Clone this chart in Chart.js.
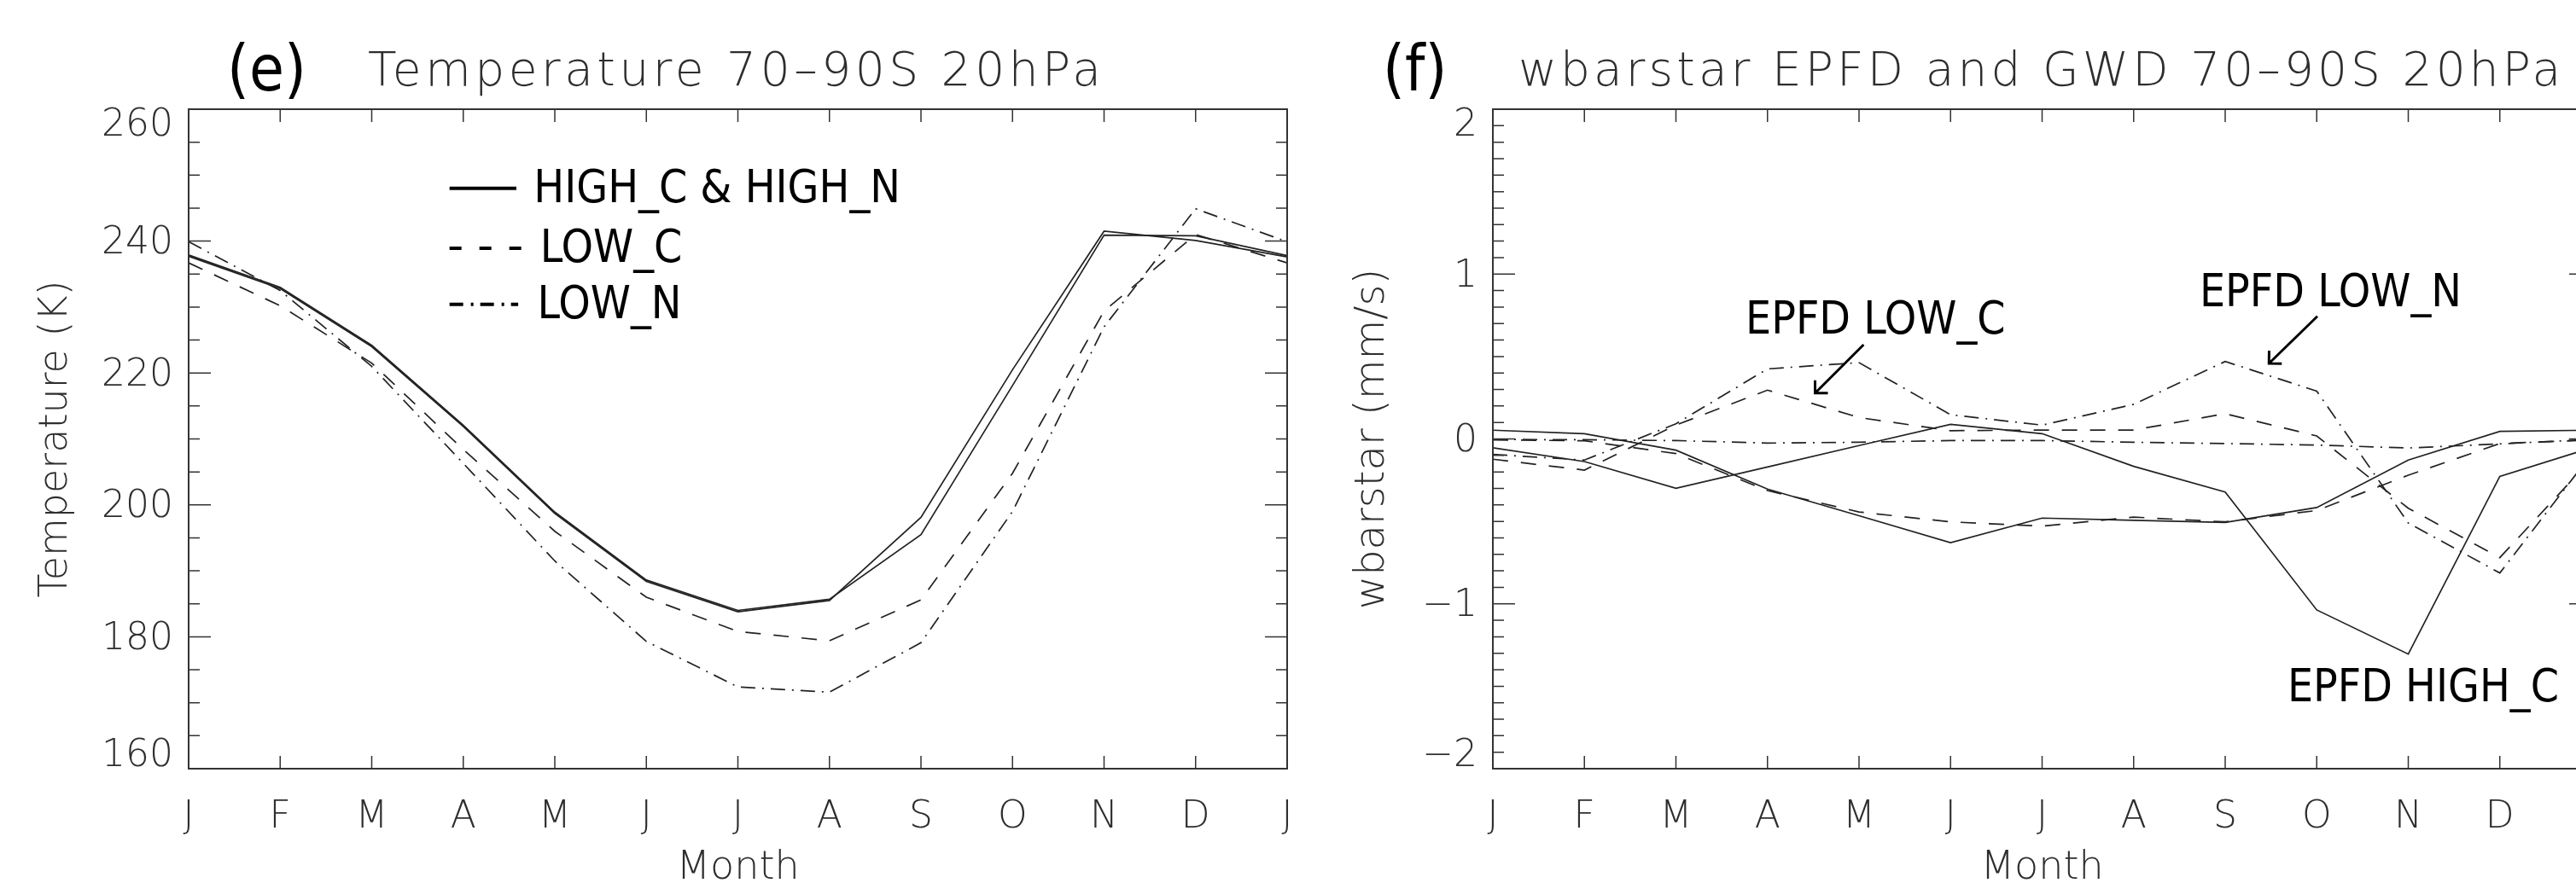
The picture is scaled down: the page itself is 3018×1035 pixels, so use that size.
<!DOCTYPE html>
<html>
<head>
<meta charset="utf-8">
<title>Temperature and wbarstar 70–90S 20hPa</title>
<script src="https://cdn.jsdelivr.net/npm/chart.js@4.4.1/dist/chart.umd.min.js"></script>
<style>
  html, body { margin: 0; padding: 0; background: #fff; overflow: hidden; }
  #page { position: relative; width: 3018px; height: 1035px; overflow: hidden; background: #fff; }
  canvas { position: absolute; top: 0; }
  #chart-e { left: 0; }
  #chart-f { left: 1528px; }
</style>
</head>
<body>
<div id="page">
  <canvas id="chart-e" width="1560" height="1035"></canvas>
  <canvas id="chart-f" width="1560" height="1035"></canvas>
</div>
<script>
const MONTHS = ['J', 'F', 'M', 'A', 'M', 'J', 'J', 'A', 'S', 'O', 'N', 'D', 'J'];

// (e) Temperature 70-90S, 20hPa (K), Jan..Jan
const T_HIGH_C = [237.7, 232.8, 224.0, 211.9, 198.7, 188.4, 183.8, 185.5, 198.1, 220.5, 241.5, 240.1, 237.6];
const T_HIGH_N = [237.9, 233.0, 224.2, 212.1, 198.9, 188.6, 184.0, 185.7, 195.5, 218.1, 240.9, 240.8, 237.8];
const T_LOW_C  = [236.7, 230.2, 221.5, 208.4, 196.0, 186.0, 180.8, 179.4, 185.6, 204.8, 229.4, 241.0, 236.7];
const T_LOW_N  = [239.9, 232.5, 221.0, 206.3, 191.5, 179.3, 172.4, 171.6, 179.1, 199.0, 227.0, 244.9, 239.9];

// (f) wbarstar from EPFD and GWD 70-90S, 20hPa (mm/s)
const EPFD_HIGH_C = [-0.054, -0.137, -0.299, -0.170, -0.040, 0.089, 0.032, -0.166, -0.322, -1.037, -1.305, -0.227, -0.054];
const GWD_HIGH_C  = [0.053, 0.032, -0.068, -0.304, -0.466, -0.629, -0.480, -0.494, -0.506, -0.416, -0.128, 0.046, 0.053];
const EPFD_LOW_C  = [-0.123, -0.189, 0.084, 0.296, 0.130, 0.050, 0.054, 0.054, 0.153, 0.018, -0.420, -0.720, -0.123];
const GWD_LOW_C   = [-0.006, -0.011, -0.089, -0.313, -0.443, -0.503, -0.529, -0.474, -0.503, -0.434, -0.220, -0.028, -0.006];
const EPFD_LOW_N  = [-0.094, -0.128, 0.092, 0.425, 0.463, 0.147, 0.084, 0.210, 0.470, 0.290, -0.510, -0.813, -0.094];
const GWD_LOW_N   = [-0.003, -0.005, -0.010, -0.025, -0.020, -0.010, -0.010, -0.020, -0.028, -0.037, -0.055, -0.030, -0.003];

const T_TICKS = { min: 160, max: 260, step: 20, minor: 5 };
const W_TICKS = { min: -2, max: 2, step: 1, minor: 0.1 };

// styles
const TEXT = '#2e2e2e';
const INK = '#222';
const AXIS = '#333';
const THIN = "'DejaVu Sans'";
const COND = "'DejaVu Sans Condensed', 'DejaVu Sans', sans-serif";
const SOLID = [];
const DASH = [18, 15];
const DASHDOT = [17, 8, 2, 8];

function line(label, data, dash) {
  return {
    label,
    data,
    borderColor: INK,
    borderWidth: 1.7,
    borderDash: dash,
    pointRadius: 0,
    tension: 0,
    fill: false,
  };
}

// spread a string over a given width (the original uses a wide stroke font)
function fitText(ctx, text, x, y, width) {
  ctx.letterSpacing = '0px';
  const w = ctx.measureText(text).width;
  const ls = Math.max(0, (width - w) / (text.length - 1));
  ctx.letterSpacing = ls.toFixed(2) + 'px';
  ctx.fillText(text, x, y);
  ctx.letterSpacing = '0px';
}

// IDL-style box: inward ticks on all four sides, panel titles, notes
function frame(cfg) {
  return {
    id: 'idlFrame',
    afterDatasetsDraw(chart) {
      const { ctx, chartArea: a, scales: { x, y } } = chart;
      ctx.save();
      ctx.strokeStyle = AXIS;
      ctx.lineWidth = 2;
      ctx.strokeRect(a.left, a.top, a.right - a.left, a.bottom - a.top);

      ctx.lineWidth = 1.5;
      ctx.beginPath();
      for (let i = 1; i < MONTHS.length - 1; i++) {
        const px = x.getPixelForTick(i);
        ctx.moveTo(px, a.bottom); ctx.lineTo(px, a.bottom - 15);
        ctx.moveTo(px, a.top);    ctx.lineTo(px, a.top + 15);
      }
      const n = Math.round((cfg.ticks.max - cfg.ticks.min) / cfg.ticks.minor);
      for (let k = 1; k < n; k++) {
        const v = cfg.ticks.min + k * cfg.ticks.minor;
        const r = v / cfg.ticks.step;
        const len = Math.abs(r - Math.round(r)) < 1e-6 ? 26 : 13;
        const py = y.getPixelForValue(v);
        ctx.moveTo(a.left, py);  ctx.lineTo(a.left + len, py);
        ctx.moveTo(a.right, py); ctx.lineTo(a.right - len, py);
      }
      ctx.stroke();
      ctx.restore();
    },
    afterDraw(chart) {
      const { ctx, chartArea: a, scales: { x, y } } = chart;
      ctx.save();
      ctx.textBaseline = 'alphabetic';
      ctx.textAlign = 'left';

      ctx.fillStyle = '#000';
      ctx.font = `74px ${COND}`;
      ctx.fillText(cfg.panel, a.left + cfg.panelDx, a.top - 22);

      ctx.fillStyle = TEXT;
      ctx.font = `200 55px ${THIN}`;
      fitText(ctx, cfg.title, a.left + cfg.titleDx, a.top - 28, cfg.titleWidth);

      ctx.fillStyle = '#000';
      ctx.strokeStyle = '#000';
      ctx.font = `53px ${COND}`;

      (cfg.legend || []).forEach(item => {
        const py = y.getPixelForValue(item.y);
        ctx.lineWidth = 4;
        ctx.setLineDash(item.dash);
        ctx.beginPath();
        ctx.moveTo(x.getPixelForValue(item.x0), py);
        ctx.lineTo(x.getPixelForValue(item.x1), py);
        ctx.stroke();
        ctx.setLineDash([]);
        ctx.fillText(item.label, x.getPixelForValue(item.tx), py + 16);
      });

      (cfg.notes || []).forEach(n => {
        ctx.fillText(n.text, x.getPixelForValue(n.x), y.getPixelForValue(n.y));
      });

      ctx.lineWidth = 3;
      (cfg.arrows || []).forEach(ar => {
        const x0 = x.getPixelForValue(ar.from[0]), y0 = y.getPixelForValue(ar.from[1]);
        const x1 = x.getPixelForValue(ar.to[0]),   y1 = y.getPixelForValue(ar.to[1]);
        const ang = Math.atan2(y0 - y1, x0 - x1);
        const head = 15;
        ctx.beginPath();
        ctx.moveTo(x0, y0); ctx.lineTo(x1, y1);
        ctx.moveTo(x1 + head * Math.cos(ang - Math.PI / 4), y1 + head * Math.sin(ang - Math.PI / 4));
        ctx.lineTo(x1, y1);
        ctx.lineTo(x1 + head * Math.cos(ang + Math.PI / 4), y1 + head * Math.sin(ang + Math.PI / 4));
        ctx.stroke();
      });
      ctx.restore();
    },
  };
}

// IDL keeps the end labels inside the box
function tickLabel(value, index, ticks) {
  const s = String(value).replace('-', '\u2212');
  if (index === 0) return [s, ''];
  if (index === ticks.length - 1) return ['', s];
  return s;
}

function panel(id, datasets, yTicks, yTitle, yTitleSize, yTitleOffset, cfg) {
  return new Chart(document.getElementById(id), {
    type: 'line',
    data: { labels: MONTHS, datasets },
    options: {
      responsive: false,
      animation: false,
      devicePixelRatio: 1,
      layout: { padding: { left: 0, right: 52, top: 128, bottom: 0 } },
      plugins: {
        legend: { display: false },
        tooltip: { enabled: false },
        title: { display: false },
      },
      scales: {
        x: {
          type: 'category',
          offset: false,
          grid: { display: false, drawTicks: false },
          border: { display: false },
          ticks: {
            autoSkip: false,
            maxRotation: 0,
            padding: 31,
            color: TEXT,
            font: { family: THIN, size: 44, weight: 200, lineHeight: 1.2 },
          },
          title: {
            display: true,
            text: 'Month',
            color: TEXT,
            font: { family: THIN, size: 46, weight: 200, lineHeight: '30px' },
            padding: { top: 0, bottom: 2 },
          },
          afterFit: s => { s.height = 134; },
        },
        y: {
          min: yTicks.min,
          max: yTicks.max,
          grid: { display: false, drawTicks: false },
          border: { display: false },
          ticks: {
            stepSize: yTicks.step,
            padding: 18,
            labelOffset: 3,
            color: TEXT,
            font: { family: THIN, size: 44, weight: 200, lineHeight: '34px' },
            callback: tickLabel,
          },
          title: {
            display: true,
            text: yTitle,
            color: TEXT,
            font: { family: THIN, size: yTitleSize, weight: 200, lineHeight: '30px' },
            padding: { top: yTitleOffset, bottom: 0 },
          },
          afterFit: s => { s.width = 221; },
        },
      },
    },
    plugins: [frame(cfg)],
  });
}

panel('chart-e', [
  line('HIGH_C', T_HIGH_C, SOLID),
  line('HIGH_N', T_HIGH_N, SOLID),
  line('LOW_C', T_LOW_C, DASH),
  line('LOW_N', T_LOW_N, DASHDOT),
], T_TICKS, 'Temperature (K)', 46, 51, {
  ticks: T_TICKS,
  panel: '(e)', panelDx: 45,
  title: 'Temperature 70\u201390S 20hPa', titleDx: 210, titleWidth: 859,
  legend: [
    { label: 'HIGH_C & HIGH_N', dash: SOLID, x0: 2.85, x1: 3.58, tx: 3.77, y: 248.0 },
    { label: 'LOW_C', dash: [14, 21], x0: 2.85, x1: 3.65, tx: 3.84, y: 238.9 },
    { label: 'LOW_N', dash: [16, 9, 3, 8], x0: 2.85, x1: 3.60, tx: 3.81, y: 230.4 },
  ],
});

panel('chart-f', [
  line('EPFD HIGH_C', EPFD_HIGH_C, SOLID),
  line('GWD HIGH_C', GWD_HIGH_C, SOLID),
  line('EPFD LOW_C', EPFD_LOW_C, DASH),
  line('GWD LOW_C', GWD_LOW_C, DASH),
  line('EPFD LOW_N', EPFD_LOW_N, DASHDOT),
  line('GWD LOW_N', GWD_LOW_N, DASHDOT),
], W_TICKS, 'wbarstar (mm/s)', 48, 66, {
  ticks: W_TICKS,
  panel: '(f)', panelDx: -129,
  title: 'wbarstar EPFD and GWD 70\u201390S 20hPa', titleDx: 30, titleWidth: 1221,
  notes: [
    { text: 'EPFD LOW_C', x: 2.76, y: 0.64 },
    { text: 'EPFD LOW_N', x: 7.72, y: 0.803 },
    { text: 'EPFD HIGH_C', x: 8.68, y: -1.593 },
  ],
  arrows: [
    { from: [4.05, 0.572], to: [3.52, 0.278] },
    { from: [9.007, 0.744], to: [8.478, 0.458] },
  ],
});
</script>
</body>
</html>
